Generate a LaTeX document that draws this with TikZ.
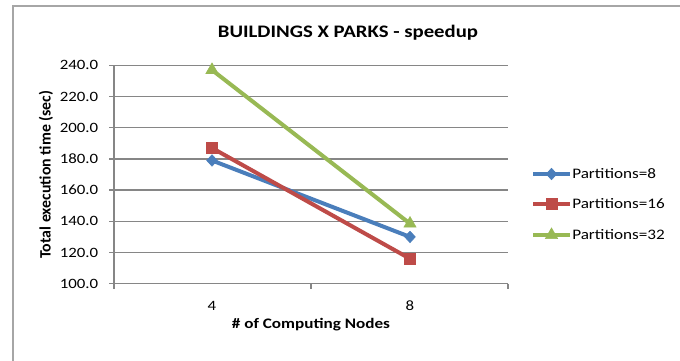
\documentclass[tikz,border=0pt]{standalone}
\usepackage{fontspec}
\setmainfont{Carlito}[FakeStretch=1.18]
\newfontfamily\uprightlabel{Carlito}
\usetikzlibrary{shapes.geometric}
\definecolor{serA}{HTML}{4A7EBB}
\definecolor{serB}{HTML}{BE4B48}
\definecolor{serC}{HTML}{98B954}
\definecolor{gridc}{HTML}{868686}
\definecolor{framec}{HTML}{A6A6A6}

\begin{document}
\begin{tikzpicture}[x=0.75pt,y=-0.75pt,
  gridline/.style={draw=gridc,line width=1.1pt},
  axisline/.style={draw=gridc,line width=1.1pt},
  ticklab/.style={font=\fontsize{10.7}{12}\selectfont,inner sep=0pt},
  boldlab/.style={font=\fontsize{10.9}{12}\selectfont\bfseries,inner sep=0pt},
  series/.style={line width=3pt,line join=round},
  mdiamond/.style={diamond,fill=#1,draw=#1,inner sep=0pt,minimum width=8.2pt,minimum height=8.8pt},
  msquare/.style={rectangle,fill=#1,draw=#1,inner sep=0pt,minimum size=8.6pt},
  mtriangle/.style={regular polygon,regular polygon sides=3,fill=#1,draw=#1,inner sep=0pt,minimum size=10.6pt},
  legtext/.style={font=\fontsize{10.9}{12}\selectfont,inner sep=0pt,anchor=west}]

% canvas and chart frame
\useasboundingbox (0,0) rectangle (680,360);
\clip (0,0) rectangle (680,360);
\fill[white] (0,0) rectangle (680,360);
\draw[framec,line width=1.4pt] (13,366) -- (13,6) -- (686,6);

% title
\node[font=\fontsize{13.2}{16}\selectfont\bfseries,inner sep=0pt,anchor=base] (title) at (348,38) {BUILDINGS X PARKS - speedup};

% horizontal gridlines, y ticks and labels
\foreach \v in {120,140,...,240}{
  \draw[gridline] (114,{283.7-(\v-100)*1.56}) -- (508,{283.7-(\v-100)*1.56});
}
\foreach \v in {100,120,...,240}{
  \draw[axisline] (109,{283.7-(\v-100)*1.56}) -- (114,{283.7-(\v-100)*1.56});
  \node[ticklab,anchor=east] (yl\v) at (98.5,{283.7-(\v-100)*1.56}) {\v.0};
}

% axes
\draw[axisline] (114,65.3) -- (114,289);
\draw[axisline] (114,283.7) -- (508,283.7);
\foreach \x in {311,508}{
  \draw[axisline] (\x,283.7) -- (\x,289);
}

% category labels and axis titles
\node[ticklab] (x4) at (212,306) {4};
\node[ticklab] (x8) at (410,306) {8};
\node[boldlab,anchor=base] (xtitle) at (311,328) {\# of Computing Nodes};
\node[font=\uprightlabel\fontsize{11.9}{13}\selectfont\bfseries,inner sep=0pt,anchor=base,rotate=90] (ytitle) at (50.5,174.5) {Total execution time (sec)};

% data points
\coordinate (a4) at (212,{283.7-(179-100)*1.56});
\coordinate (a8) at (410,{283.7-(130-100)*1.56});
\coordinate (b4) at (212,{283.7-(187-100)*1.56});
\coordinate (b8) at (410,{283.7-(116-100)*1.56});
\coordinate (c4) at (212,{283.7-(237-100)*1.56});
\coordinate (c8) at (410,{283.7-(138.5-100)*1.56});

% series lines
\draw[series,serA] (a4) -- (a8);
\draw[series,serB] (b4) -- (b8);
\draw[series,serC] (c4) -- (c8);

% markers
\node[mdiamond=serA] (ma4) at (a4) {};
\node[mdiamond=serA] (ma8) at (a8) {};
\node[msquare=serB] (mb4) at (b4) {};
\node[msquare=serB] (mb8) at (b8) {};
\node[mtriangle=serC] (mc4) at (c4) {};
\node[mtriangle=serC] (mc8) at (c8) {};

% legend
\coordinate (la0) at (533,174); \coordinate (la1) at (570,174);
\coordinate (lb0) at (533,204); \coordinate (lb1) at (570,204);
\coordinate (lc0) at (533,235); \coordinate (lc1) at (570,235);
\draw[series,serA] (la0) -- (la1);
\draw[series,serB] (lb0) -- (lb1);
\draw[series,serC] (lc0) -- (lc1);
\node[mdiamond=serA] (lma) at (551.5,174) {};
\node[msquare=serB] (lmb) at (551.5,204) {};
\node[mtriangle=serC] (lmc) at (551.5,235) {};
\node[legtext] (lta) at (572,174) {Partitions=8};
\node[legtext] (ltb) at (572,204) {Partitions=16};
\node[legtext] (ltc) at (572,235) {Partitions=32};
\end{tikzpicture}
\end{document}
